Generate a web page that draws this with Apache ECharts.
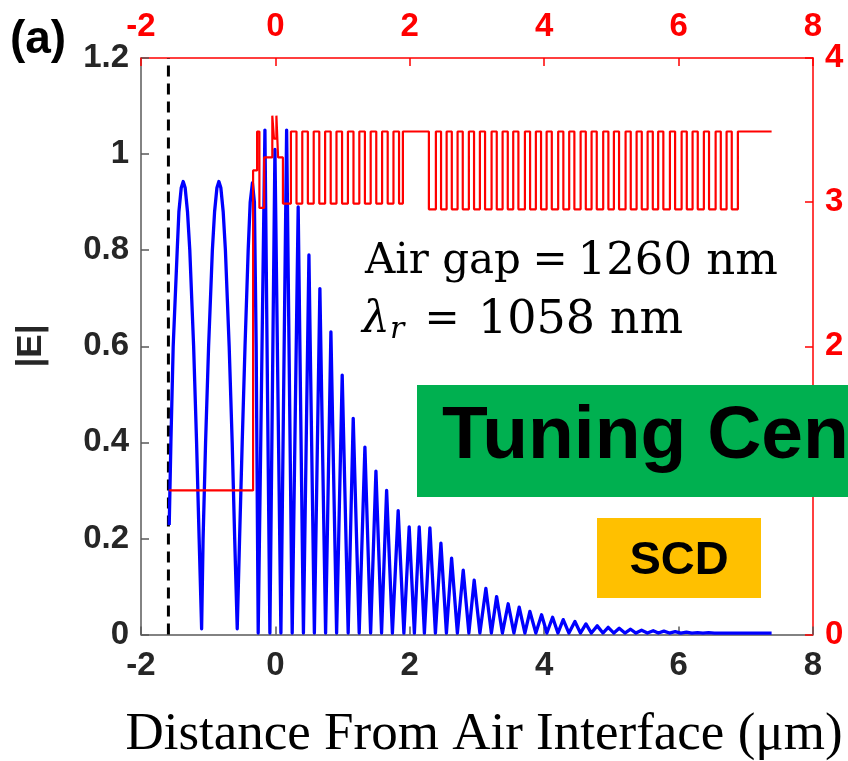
<!DOCTYPE html>
<html><head><meta charset="utf-8">
<script src="https://cdn.jsdelivr.net/npm/echarts/dist/echarts.min.js"></script>
<style>html,body{margin:0;padding:0;background:#fff}#c{width:848px;height:761px}</style>
</head><body><div id="c"></div>
<script>
// |E| field profile (bottom x axis, left y axis)
const eX = [-1.580,-1.555,-1.521,-1.461,-1.436,-1.401,-1.372,-1.343,-1.308,-1.274,-1.217,-1.173,-1.135,-1.098,
  -1.076,-1.039,-0.994,-0.938,-0.905,-0.870,-0.841,-0.812,-0.777,-0.744,-0.688,-0.643,-0.606,-0.568,
  -0.533,-0.494,-0.452,-0.405,-0.375,-0.342,-0.3125,-0.286,-0.256,
  -0.156,-0.082,-0.007,0.082,0.167,0.250,0.339,0.417,0.499,0.580,0.662,0.747,0.826,0.911,0.994,1.083,
  1.158,1.247,1.332,1.417,1.496,1.580,1.655,1.741,1.827,1.912,1.991,2.068,2.140,2.217,2.299,2.381,
  2.463,2.545,2.622,2.708,2.795,2.879,2.958,3.043,3.132,3.214,3.292,3.378,3.464,3.549,3.628,3.713,
  3.787,3.876,3.961,4.040,4.125,4.204,4.283,4.368,4.457,4.539,4.621,4.702,4.789,4.874,4.952,5.037,
  5.116,5.201,5.286,5.365,5.449,5.536,5.622,5.699,5.781,5.863,5.949,6.034,6.116,6.198,6.283,6.362,
  6.446,6.533,6.615,6.696,6.778,6.860,7.384];
const eY = [0.228,0.40,0.60,0.80,0.88,0.93,0.943,0.93,0.88,0.80,0.60,0.40,0.20,0.012,
  0.20,0.40,0.60,0.80,0.88,0.93,0.943,0.93,0.88,0.80,0.60,0.40,0.20,0.012,
  0.20,0.40,0.60,0.80,0.90,0.94,0.90,0.60,0.003,
  1.05,0.003,1.01,0.003,1.05,0.003,0.89,0.003,0.79,0.003,0.72,0.003,0.63,0.003,0.54,0.003,
  0.45,0.003,0.39,0.003,0.34,0.003,0.30,0.003,0.258,0.003,0.224,0.003,0.224,0.003,0.222,0.003,
  0.19,0.003,0.159,0.003,0.134,0.003,0.113,0.003,0.096,0.003,0.079,0.003,0.064,0.003,0.057,0.003,
  0.048,0.003,0.041,0.003,0.036,0.003,0.031,0.003,0.027,0.003,0.022,0.003,0.018,0.003,0.015,0.003,
  0.013,0.003,0.011,0.003,0.009,0.003,0.008,0.003,0.007,0.003,0.006,0.003,0.005,0.003,0.004,0.003,
  0.004,0.003,0.003,0.003,0.003,0.003,0.003];

// Refractive index profile (top x axis, right y axis): layer start positions and index values
const nStart = [-1.580,-0.332,-0.272,-0.238,-0.167,-0.046,-0.021,0.015,0.040,0.112,
  0.231,0.314,0.400,0.483,0.570,0.653,0.740,0.823,0.909,0.992,1.079,1.162,1.249,1.332,1.418,1.501,1.588,1.671,1.757,1.840,1.897,
  2.284,2.388,2.465,2.548,2.625,2.711,2.788,2.879,2.956,3.043,3.120,3.217,3.294,3.381,3.458,3.539,3.616,3.713,3.790,
  3.876,3.953,4.036,4.113,4.208,4.285,4.372,4.449,4.542,4.619,4.705,4.782,4.878,4.955,5.037,5.114,5.211,5.288,
  5.375,5.452,5.539,5.616,5.696,5.773,5.871,5.948,6.045,6.122,6.208,6.285,6.376,6.453,6.551,6.628,6.714,6.791,6.882];
const nValue = [1.00,3.22,3.49,2.96,3.31,3.60,3.44,3.60,3.31,2.99,
  3.49,2.99,3.49,2.99,3.49,2.99,3.49,2.99,3.49,2.99,3.49,2.99,3.49,2.99,3.49,2.99,3.49,2.99,3.49,2.99,3.49,
  2.95,3.49,2.95,3.49,2.95,3.49,2.95,3.49,2.95,3.49,2.95,3.49,2.95,3.49,2.95,3.49,2.95,3.49,2.95,
  3.49,2.95,3.49,2.95,3.49,2.95,3.49,2.95,3.49,2.95,3.49,2.95,3.49,2.95,3.49,2.95,3.49,2.95,
  3.49,2.95,3.49,2.95,3.49,2.95,3.49,2.95,3.49,2.95,3.49,2.95,3.49,2.95,3.49,2.95,3.49,2.95,3.49];
const nEnd = 7.384;

// Air interface marker
const airX = -1.592;

// Axis ranges / ticks
const xRange = [-2, 8, 2];
const eRange = [0, 1.2, 0.2];
const nRange = [0, 4, 1];

const chart = echarts.init(document.getElementById('c'), null, {renderer: 'canvas'});

const blueData = eX.map((x, i) => [x, eY[i]]);
const redData = [];
for (let i = 0; i < nStart.length; i++) {
  const x1 = i + 1 < nStart.length ? nStart[i + 1] : nEnd;
  redData.push([nStart[i], nValue[i]], [x1, nValue[i]]);
}

const sans = '"Liberation Sans", Arial, sans-serif';
const serif = '"DejaVu Serif", serif';
const dark = '#262626';
const axisGray = '#5a5a5a';
const red = '#ff0000';

function lbl(color) {
  return {color: color, fontSize: 33, fontWeight: 'bold', fontFamily: sans};
}

chart.setOption({
  animation: false,
  backgroundColor: '#fff',
  grid: {left: 141, right: 35, top: 58, bottom: 126.5, containLabel: false},
  xAxis: [
    {type: 'value', position: 'bottom', min: xRange[0], max: xRange[1], interval: xRange[2],
      axisLine: {show: true, onZero: false, lineStyle: {color: axisGray, width: 1.5}},
      axisTick: {inside: true, length: 8, lineStyle: {color: axisGray, width: 1.5}},
      axisLabel: Object.assign({margin: 15}, lbl(dark)),
      splitLine: {show: false}},
    {type: 'value', position: 'top', min: xRange[0], max: xRange[1], interval: xRange[2],
      axisLine: {show: true, onZero: false, lineStyle: {color: red, width: 1.5}},
      axisTick: {inside: true, length: 8, lineStyle: {color: red, width: 1.5}},
      axisLabel: Object.assign({margin: 15}, lbl(red)),
      splitLine: {show: false}}
  ],
  yAxis: [
    {type: 'value', position: 'left', min: eRange[0], max: eRange[1], interval: eRange[2],
      axisLine: {show: true, onZero: false, lineStyle: {color: axisGray, width: 1.5}},
      axisTick: {inside: true, length: 8, lineStyle: {color: axisGray, width: 1.5}},
      axisLabel: Object.assign({margin: 12, formatter: v => String(Math.round(v * 10) / 10)}, lbl(dark)),
      splitLine: {show: false}},
    {type: 'value', position: 'right', min: nRange[0], max: nRange[1], interval: nRange[2],
      axisLine: {show: true, onZero: false, lineStyle: {color: red, width: 1.5}},
      axisTick: {inside: true, length: 8, lineStyle: {color: red, width: 1.5}},
      // the "1" label sits behind the green annotation box in the original
      axisLabel: Object.assign({margin: 12, formatter: v => (Math.round(v) === 1 ? '' : String(Math.round(v)))}, lbl(red)),
      splitLine: {show: false}}
  ],
  series: [
    {type: 'line', name: 'air', xAxisIndex: 0, yAxisIndex: 0, data: [[airX, eRange[0]], [airX, eRange[1]]],
      showSymbol: false, symbol: 'none', lineStyle: {color: '#000', width: 3, type: [11, 7]}, z: 3},
    {type: 'line', name: '|E|', xAxisIndex: 0, yAxisIndex: 0, data: blueData,
      showSymbol: false, symbol: 'none', lineStyle: {color: '#0000ff', width: 3.3, join: 'round'}, z: 4},
    {type: 'line', name: 'n', xAxisIndex: 1, yAxisIndex: 1, data: redData,
      showSymbol: false, symbol: 'none', lineStyle: {color: red, width: 2.2}, z: 5}
  ],
  graphic: [
    {type: 'text', x: 38, y: 40, z: 100, style: {text: '(a)', font: 'bold 46px ' + sans, fill: '#000', align: 'center', verticalAlign: 'middle'}},
    {type: 'text', x: 31, y: 346, rotation: Math.PI / 2, z: 100, style: {text: '|E|', font: 'bold 35px ' + sans, fill: dark, align: 'center', verticalAlign: 'middle'}},
    {type: 'text', x: 365, y: 262, z: 100, style: {text: 'Air gap', font: '42px ' + serif, fill: '#000', align: 'left', verticalAlign: 'middle'}},
    {type: 'text', x: 550, y: 262, z: 100, style: {text: '=', font: '42px ' + serif, fill: '#000', align: 'center', verticalAlign: 'middle'}},
    {type: 'text', x: 778, y: 262, z: 100, style: {text: '1260 nm', font: '45px ' + serif, fill: '#000', align: 'right', verticalAlign: 'middle'}},
    {type: 'text', x: 362, y: 321, z: 100, style: {text: '{a|λ}{b|r}', align: 'left', verticalAlign: 'middle',
      rich: {a: {font: 'italic 44px ' + serif, fill: '#000'}, b: {font: 'italic 30px ' + serif, fill: '#000', padding: [18, 0, 0, 0]}}}},
    {type: 'text', x: 442, y: 321, z: 100, style: {text: '=', font: '42px ' + serif, fill: '#000', align: 'center', verticalAlign: 'middle'}},
    {type: 'text', x: 683, y: 321, z: 100, style: {text: '1058 nm', font: '46px ' + serif, fill: '#000', align: 'right', verticalAlign: 'middle'}},
    {type: 'rect', z: 100, shape: {x: 417, y: 385, width: 500, height: 112}, style: {fill: '#00b050'}},
    {type: 'text', x: 442, y: 437, z: 101, style: {text: 'Tuning Center', font: 'bold 75px ' + sans, fill: '#000', align: 'left', verticalAlign: 'middle'}},
    {type: 'rect', z: 100, shape: {x: 597, y: 518, width: 164, height: 80}, style: {fill: '#ffc000'}},
    {type: 'text', x: 679, y: 561, z: 101, style: {text: 'SCD', font: 'bold 47px ' + sans, fill: '#000', align: 'center', verticalAlign: 'middle'}},
    {type: 'text', x: 484, y: 735, z: 100, style: {text: 'Distance From Air Interface (μm)', font: '53px "Liberation Serif", "Times New Roman", serif', fill: '#000', align: 'center', verticalAlign: 'middle'}}
  ]
});
</script>
</body></html>
